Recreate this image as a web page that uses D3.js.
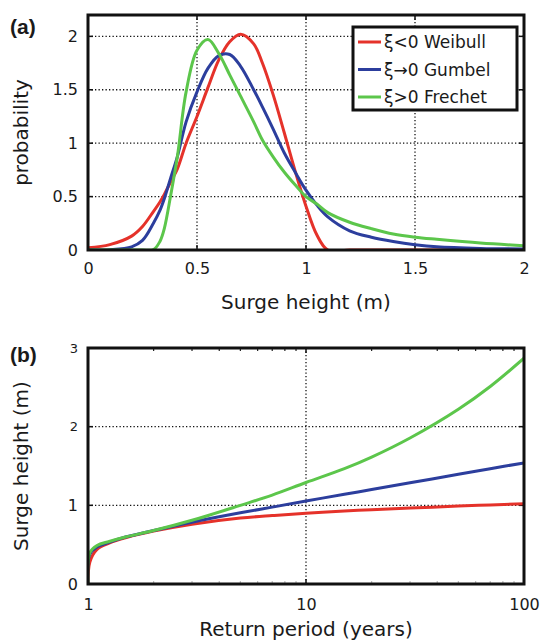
<!DOCTYPE html>
<html>
<head>
<meta charset="utf-8">
<script src="https://cdn.jsdelivr.net/npm/d3@7/dist/d3.min.js"></script>
<style>
  body { margin: 0; background: #fff; }
  svg text { font-family: "DejaVu Sans", sans-serif; fill: #1a1a1a; }
</style>
</head>
<body>
<div id="chart"></div>
<script>
// (a) probability density
const surgeX     = [0, 0.1, 0.2, 0.25, 0.3, 0.33, 0.35, 0.38, 0.41, 0.45, 0.5, 0.55, 0.6, 0.65, 0.7, 0.76, 0.8, 0.85, 0.9, 0.95, 1.0, 1.05, 1.1, 1.2, 1.3, 1.4, 1.5, 1.6, 1.8, 2.0];
const weibullPdf = [0.02, 0.05, 0.13, 0.22, 0.36, 0.45, 0.52, 0.64, 0.76, 1.0, 1.25, 1.52, 1.78, 1.95, 2.02, 1.93, 1.75, 1.45, 1.1, 0.74, 0.41, 0.14, 0, 0, 0, 0, 0, 0, 0, 0];
const gumbelPdf  = [0, 0.003, 0.03, 0.09, 0.25, 0.37, 0.48, 0.68, 0.875, 1.2, 1.48, 1.7, 1.82, 1.83, 1.72, 1.5, 1.34, 1.13, 0.91, 0.73, 0.56, 0.42, 0.31, 0.18, 0.12, 0.08, 0.05, 0.03, 0.015, 0.01];
const frechetPdf = [0, 0, 0, 0, 0.003, 0.08, 0.2, 0.52, 0.875, 1.48, 1.87, 1.97, 1.84, 1.64, 1.44, 1.2, 1.03, 0.87, 0.73, 0.61, 0.5, 0.43, 0.35, 0.26, 0.2, 0.15, 0.12, 0.1, 0.065, 0.04];

// (b) return level curves
const returnPeriod = [1, 1.02, 1.1, 1.25, 1.5, 2, 3, 5, 7, 10, 15, 20, 30, 50, 70, 100];
const weibullLevel = [0, 0.28, 0.44, 0.52, 0.59, 0.672, 0.76, 0.838, 0.87, 0.898, 0.928, 0.945, 0.965, 0.99, 1.005, 1.02];
const gumbelLevel  = [0, 0.38, 0.47, 0.53, 0.6, 0.68, 0.786, 0.905, 0.977, 1.055, 1.14, 1.2, 1.287, 1.394, 1.465, 1.54];
const frechetLevel = [0, 0.4, 0.49, 0.54, 0.6, 0.68, 0.81, 1.0, 1.13, 1.29, 1.466, 1.613, 1.856, 2.222, 2.511, 2.87];

const seriesNames = ["ξ<0 Weibull", "ξ→0 Gumbel", "ξ>0 Frechet"];
const colors = ["#e5322a", "#2c3e9d", "#5cc64b"];

const aTicksX = [0, 0.5, 1, 1.5, 2];
const aTicksY = [0, 0.5, 1, 1.5, 2];
const bTicksX = [1, 10, 100];
const bTicksY = [0, 1, 2, 3];

const width = 540, height = 642;
const svg = d3.select("#chart").append("svg")
  .attr("width", width).attr("height", height);

const frame = { left: 88, right: 524 };

// draws box, grid, ticks and curves of one panel
const drawPanel = (p) => {
  const { x, y, id } = p;
  const [x0, x1] = x.range();
  const [y1, y0] = y.range();
  const g = svg.append("g");

  svg.append("clipPath").attr("id", id)
    .append("rect").attr("x", x0).attr("y", y0).attr("width", x1 - x0).attr("height", y1 - y0);

  // dotted grid
  g.selectAll(".gx").data(p.gridX).enter().append("line")
    .attr("x1", d => x(d)).attr("x2", d => x(d))
    .attr("y1", y0).attr("y2", y1)
    .attr("stroke", "#111").attr("stroke-width", 1.3).attr("stroke-dasharray", "1.3,2.2");
  g.selectAll(".gy").data(p.gridY).enter().append("line")
    .attr("x1", x0).attr("x2", x1)
    .attr("y1", d => y(d)).attr("y2", d => y(d))
    .attr("stroke", "#111").attr("stroke-width", 1.3).attr("stroke-dasharray", "1.3,2.2");

  // inward ticks on all four sides
  const tk = 5;
  p.ticksX.forEach(d => {
    g.append("line").attr("x1", x(d)).attr("x2", x(d)).attr("y1", y1).attr("y2", y1 - tk).attr("stroke", "#111").attr("stroke-width", 1.5);
    g.append("line").attr("x1", x(d)).attr("x2", x(d)).attr("y1", y0).attr("y2", y0 + tk).attr("stroke", "#111").attr("stroke-width", 1.5);
  });
  (p.minorX || []).forEach(d => {
    g.append("line").attr("x1", x(d)).attr("x2", x(d)).attr("y1", y1).attr("y2", y1 - 3).attr("stroke", "#bbb").attr("stroke-width", 1.2);
    g.append("line").attr("x1", x(d)).attr("x2", x(d)).attr("y1", y0).attr("y2", y0 + 3).attr("stroke", "#222").attr("stroke-width", 1.2);
  });
  p.ticksY.forEach(d => {
    g.append("line").attr("x1", x0).attr("x2", x0 + tk).attr("y1", y(d)).attr("y2", y(d)).attr("stroke", "#111").attr("stroke-width", 1.5);
    g.append("line").attr("x1", x1).attr("x2", x1 - tk).attr("y1", y(d)).attr("y2", y(d)).attr("stroke", "#111").attr("stroke-width", 1.5);
  });

  // curves
  const line = d3.line()
    .x((d, i) => x(p.xs[i]))
    .y(d => y(d))
    .curve(d3.curveCatmullRom.alpha(0.5));
  g.selectAll(".curve").data(p.series).enter().append("path")
    .attr("d", d => line(d))
    .attr("fill", "none")
    .attr("stroke", (d, i) => colors[i])
    .attr("stroke-width", 3)
    .attr("stroke-linejoin", "round")
    .attr("clip-path", `url(#${id})`);

  // box
  g.append("rect").attr("x", x0).attr("y", y0).attr("width", x1 - x0).attr("height", y1 - y0)
    .attr("fill", "none").attr("stroke", "#111").attr("stroke-width", 3);

  // tick labels
  const ax = svg.append("g").attr("transform", `translate(0,${y1})`)
    .call(d3.axisBottom(x).tickValues(p.ticksX).tickFormat(d3.format("")).tickSize(0).tickPadding(p.padX));
  ax.select(".domain").remove();
  ax.selectAll("text").style("font-size", "16px").attr("fill", "#1a1a1a");

  const ay = svg.append("g").attr("transform", `translate(${x0},0)`)
    .call(d3.axisLeft(y).tickValues(p.ticksY).tickFormat(d3.format("")).tickSize(0).tickPadding(10));
  ay.select(".domain").remove();
  ay.selectAll("text").style("font-size", p.sizeY).attr("fill", "#1a1a1a");

  // axis titles
  svg.append("text").attr("x", (x0 + x1) / 2).attr("y", p.titleXy)
    .attr("text-anchor", "middle").style("font-size", "20px").text(p.titleX);
  svg.append("text")
    .attr("transform", `translate(28,${(y0 + y1) / 2}) rotate(-90)`)
    .attr("text-anchor", "middle").style("font-size", "20px").text(p.titleY);

  // panel letter
  svg.append("text").attr("x", 10).attr("y", p.letterY)
    .style("font-family", "'Liberation Sans', Arial, sans-serif")
    .style("font-weight", "bold").style("font-size", "21px").text(p.letter);
};

// panel (a)
const xA = d3.scaleLinear().domain([0, 2]).range([frame.left, frame.right]);
const yA = d3.scaleLinear().domain([0, 2.2]).range([250, 15]);
drawPanel({
  id: "clipA", x: xA, y: yA,
  xs: surgeX, series: [weibullPdf, gumbelPdf, frechetPdf],
  ticksX: aTicksX, ticksY: aTicksY,
  gridX: [0.5, 1, 1.5], gridY: [0.5, 1, 1.5, 2],
  padX: 13, sizeY: "16px",
  titleX: "Surge height (m)", titleXy: 309, titleY: "probability",
  letter: "(a)", letterY: 34
});

// panel (b), log x
const xB = d3.scaleLog().domain([1, 100]).range([frame.left, frame.right]);
const yB = d3.scaleLinear().domain([0, 3]).range([584, 348]);
const minorB = [2, 3, 4, 5, 6, 7, 8, 9, 20, 30, 40, 50, 60, 70, 80, 90];
drawPanel({
  id: "clipB", x: xB, y: yB,
  xs: returnPeriod, series: [weibullLevel, gumbelLevel, frechetLevel],
  ticksX: bTicksX, ticksY: bTicksY, minorX: minorB,
  gridX: [10], gridY: [1, 2],
  padX: 15, sizeY: d => d >= 2 ? "13px" : "16px",
  titleX: "Return period (years)", titleXy: 636, titleY: "Surge height (m)",
  letter: "(b)", letterY: 362
});

// legend for panel (a)
const legend = svg.append("g");
legend.append("rect").attr("x", 353).attr("y", 27).attr("width", 164).attr("height", 83)
  .attr("fill", "#fff").attr("stroke", "#111").attr("stroke-width", 3);
seriesNames.forEach((name, i) => {
  const ly = 42 + i * 27.5;
  legend.append("line").attr("x1", 358).attr("x2", 381).attr("y1", ly).attr("y2", ly)
    .attr("stroke", colors[i]).attr("stroke-width", 3);
  legend.append("text").attr("x", 384).attr("y", ly + 6)
    .style("font-size", "17px").text(name);
});
</script>
</body>
</html>
